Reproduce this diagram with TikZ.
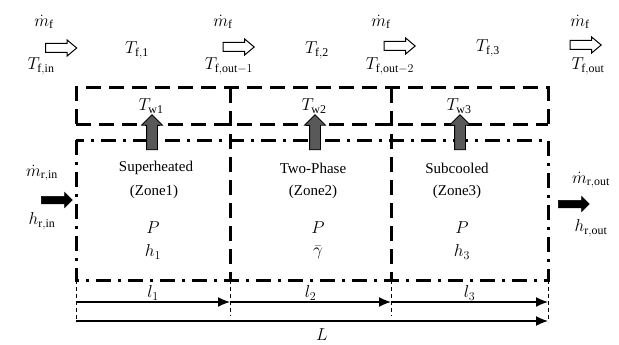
\documentclass[tikz,border=0pt]{standalone}
\usepackage{fontspec}
\setmainfont{Liberation Serif}
\usetikzlibrary{arrows.meta,shapes.arrows}
\begin{document}
\begin{tikzpicture}[x=1pt,y=-1pt,
  txt/.style={font=\fontsize{15}{18}\selectfont, inner sep=1pt},
  mth/.style={font=\fontsize{17}{20}\selectfont, inner sep=1pt},
  fluidarrow/.style={single arrow, draw=black, line width=1pt, fill=white,
    minimum height=31pt, inner sep=4pt, single arrow head extend=3.5pt,
    single arrow tip angle=80, single arrow head indent=0pt},
  refarrow/.style={single arrow, draw=black, fill=black, line width=0.5pt,
    minimum height=31pt, inner sep=3.5pt, single arrow head extend=4pt,
    single arrow tip angle=90},
  wallarrow/.style={single arrow, draw=black, fill=black!65, line width=0.8pt,
    minimum height=35pt, inner sep=5pt, single arrow head extend=5pt,
    single arrow tip angle=90, shape border rotate=90},
  wallline/.style={line width=3pt, dash pattern=on 15pt off 8pt},
  zoneline/.style={line width=3pt, dash pattern=on 15pt off 7pt on 3pt off 7pt},
  divline/.style={line width=3pt, dash pattern=on 15pt off 8pt},
  extline/.style={line width=1pt, dash pattern=on 4pt off 3pt},
  dimline/.style={line width=1.4pt, -{Latex[length=12pt,width=10pt]}}
]
\useasboundingbox (0,0) rectangle (619,345);

% top fluid row
\node[mth] (mf0) at (44,22) {$\dot m_{\mathrm{f}}$};
\node[fluidarrow] (fa0) at (58.5,48) {};
\node[mth] (tfin) at (41,66) {$T_{\mathrm{f,in}}$};
\node[mth] (tf1) at (137,50) {$T_{\mathrm{f,1}}$};
\node[mth] (mf1) at (223,22) {$\dot m_{\mathrm{f}}$};
\node[fluidarrow] (fa1) at (236,47) {};
\node[mth] (tfo1) at (229,66) {$T_{\mathrm{f,out}-1}$};
\node[mth] (tf2) at (317,50) {$T_{\mathrm{f,2}}$};
\node[mth] (mf2) at (381,22) {$\dot m_{\mathrm{f}}$};
\node[fluidarrow] (fa2) at (397,46) {};
\node[mth] (tfo2) at (390,66) {$T_{\mathrm{f,out}-2}$};
\node[mth] (tf3) at (488,48) {$T_{\mathrm{f,3}}$};
\node[mth] (mf3) at (580,22) {$\dot m_{\mathrm{f}}$};
\node[fluidarrow] (fa3) at (583,45) {};
\node[mth] (tfo) at (588,66) {$T_{\mathrm{f,out}}$};

% wall region
\draw[wallline] (76,124) -- (76,88) -- (548,88) -- (548,124);
\draw[wallline] (76,124) -- (548,124);
\draw[divline] (230,88) -- (230,280);
\draw[divline] (391,88) -- (391,280);

% zone region
\coordinate (z0) at (76,140);
\coordinate (z1) at (548,280);
\draw[zoneline] (z0) rectangle (z1);

% wall arrows and labels
\node[wallarrow] (wa1) at (152,135) {};
\node[wallarrow] (wa2) at (315,135) {};
\node[wallarrow] (wa3) at (460,135) {};
\node[mth] (tw1) at (151,106) {$T_{\mathrm{w1}}$};
\node[mth] (tw2) at (314,106) {$T_{\mathrm{w2}}$};
\node[mth] (tw3) at (459,106) {$T_{\mathrm{w3}}$};

% zone texts
\node[txt] (z1a) at (156,168) {Superheated};
\node[txt] (z1b) at (154,192) {(Zone1)};
\node[mth] (z1p) at (153,228) {$P$};
\node[mth] (z1h) at (153,252) {$h_1$};
\node[txt] (z2a) at (313,168) {Two-Phase};
\node[txt] (z2b) at (313,192) {(Zone2)};
\node[mth] (z2p) at (318,228) {$P$};
\node[mth] (z2h) at (318,252) {$\bar\gamma$};
\node[txt] (z3a) at (457,168) {Subcooled};
\node[txt] (z3b) at (457,192) {(Zone3)};
\node[mth] (z3p) at (462,228) {$P$};
\node[mth] (z3h) at (462,252) {$h_3$};

% refrigerant in/out
\node[mth] (mrin) at (42,173) {$\dot m_{\mathrm{r,in}}$};
\node[refarrow] (ra0) at (55,200) {};
\node[mth] (hrin) at (42,221) {$h_{\mathrm{r,in}}$};
\node[mth] (mrout) at (591,180) {$\dot m_{\mathrm{r,out}}$};
\node[refarrow] (ra1) at (572,204) {};
\node[mth] (hrout) at (591,228) {$h_{\mathrm{r,out}}$};

% dimension lines
\coordinate (e0t) at (76,280);  \coordinate (e0b) at (76,322);
\coordinate (e1t) at (230,280); \coordinate (e1b) at (230,316);
\coordinate (e2t) at (391,280); \coordinate (e2b) at (391,316);
\coordinate (e3t) at (548,280); \coordinate (e3b) at (548,322);
\draw[extline] (e0t) -- (e0b);
\draw[extline] (e1t) -- (e1b);
\draw[extline] (e2t) -- (e2b);
\draw[extline] (e3t) -- (e3b);
\coordinate (d0) at (76,302);  \coordinate (d1) at (230,302);
\coordinate (d2) at (391,302); \coordinate (d3) at (548,302);
\coordinate (L0) at (76,321);  \coordinate (L1) at (548,321);
\draw[dimline] (d0) -- node[mth, above=0pt] (l1) {$l_1$} (d1);
\draw[dimline] (d1) -- node[mth, above=0pt] (l2) {$l_2$} (d2);
\draw[dimline] (d2) -- node[mth, above=0pt] (l3) {$l_3$} (d3);
\draw[dimline] (L0) -- (L1);
\node[mth, inner sep=0pt] (Lab) at (322,335) {$L$};
\end{tikzpicture}
\end{document}
